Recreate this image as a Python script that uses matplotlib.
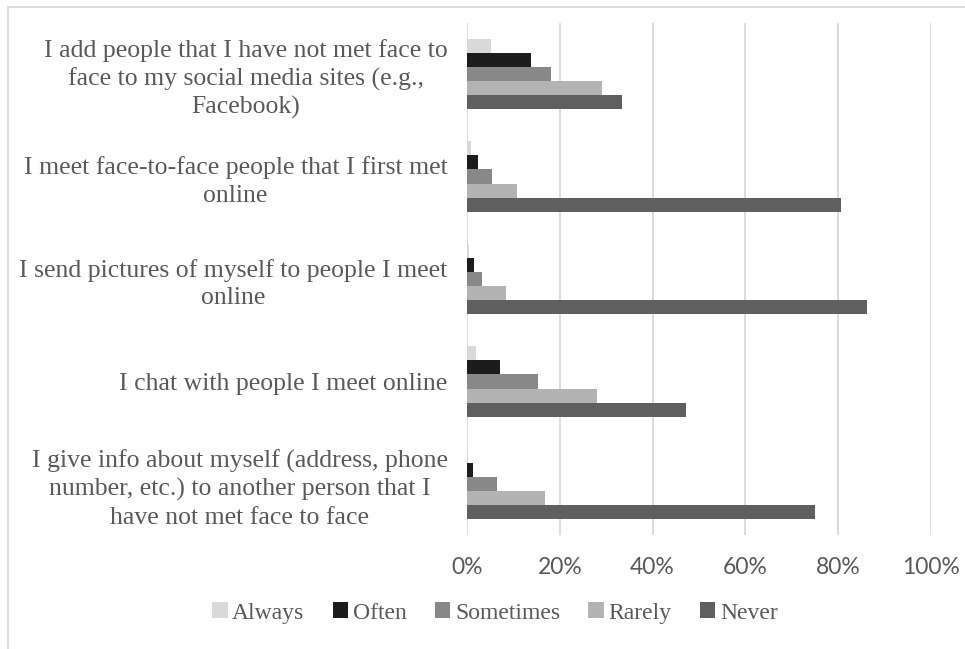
import matplotlib.pyplot as plt
import matplotlib.patches as mpatches
import numpy as np

# Data (share of respondents)
statements = [
    "I add people that I have not met face to\nface to my social media sites (e.g.,\nFacebook)",
    "I meet face-to-face people that I first met\nonline",
    "I send pictures of myself to people I meet\nonline",
    "I chat with people I meet online",
    "I give info about myself (address, phone\nnumber, etc.) to another person that I\nhave not met face to face",
]
series = ["Always", "Often", "Sometimes", "Rarely", "Never"]
always = [0.052, 0.009, 0.005, 0.020, 0.003]
often = [0.138, 0.024, 0.016, 0.072, 0.013]
sometimes = [0.181, 0.053, 0.032, 0.153, 0.065]
rarely = [0.292, 0.108, 0.085, 0.280, 0.168]
never = [0.334, 0.805, 0.862, 0.473, 0.749]
ticks = [0, 0.2, 0.4, 0.6, 0.8, 1.0]
tick_labels = ["0%", "20%", "40%", "60%", "80%", "100%"]

colors = ["#d9d9d9", "#1c1c1c", "#888888", "#b3b3b3", "#5f5f5f"]
text_color = "#595959"
serif = ["Liberation Serif", "DejaVu Serif"]

W, H = 965, 649
fig = plt.figure(figsize=(W / 100, H / 100), dpi=100)
ax = fig.add_axes([467 / W, 1 - 535.25 / H, (931 - 467) / W, (535.25 - 22.75) / H])

# chart border (cropped at right and bottom)
fig.patches.append(mpatches.Rectangle((8 / W, -0.1), 1.2, 1 - 7 / H + 0.1,
                                      transform=fig.transFigure, fill=False,
                                      edgecolor="#d9d9d9", lw=1.3, zorder=0))

y = np.arange(len(statements))
h = 0.1385
for i, (name, vals) in enumerate(zip(series, [always, often, sometimes, rarely, never])):
    ax.barh(y + (i - 2) * h, vals, height=h, color=colors[i], label=name, zorder=3)

ax.set_xlim(0, 1.0)
ax.set_ylim(len(statements) - 0.5, -0.5)
ax.set_xticks(ticks)
ax.set_xticklabels(tick_labels, fontfamily="Lato", fontsize=16.5, color=text_color)
ax.set_yticks(y)
ax.set_yticklabels(statements, fontfamily=serif, fontsize=18.5, color=text_color,
                   linespacing=1.3)
for t in ax.get_yticklabels():
    t.set_multialignment("center")
ax.tick_params(axis="y", length=0, pad=14)
ax.tick_params(axis="x", length=0, pad=16)
ax.grid(axis="x", color="#d9d9d9", lw=1.3, zorder=0)
for s in ax.spines.values():
    s.set_visible(False)

fig.legend(loc="center", bbox_to_anchor=(495 / W, 1 - 613 / H), ncol=5, frameon=False,
           prop={"family": serif, "size": 17}, labelcolor=text_color,
           handlelength=0.65, handleheight=0.65, handletextpad=0.2, columnspacing=1.2)

fig.savefig("out.png", dpi=100)
